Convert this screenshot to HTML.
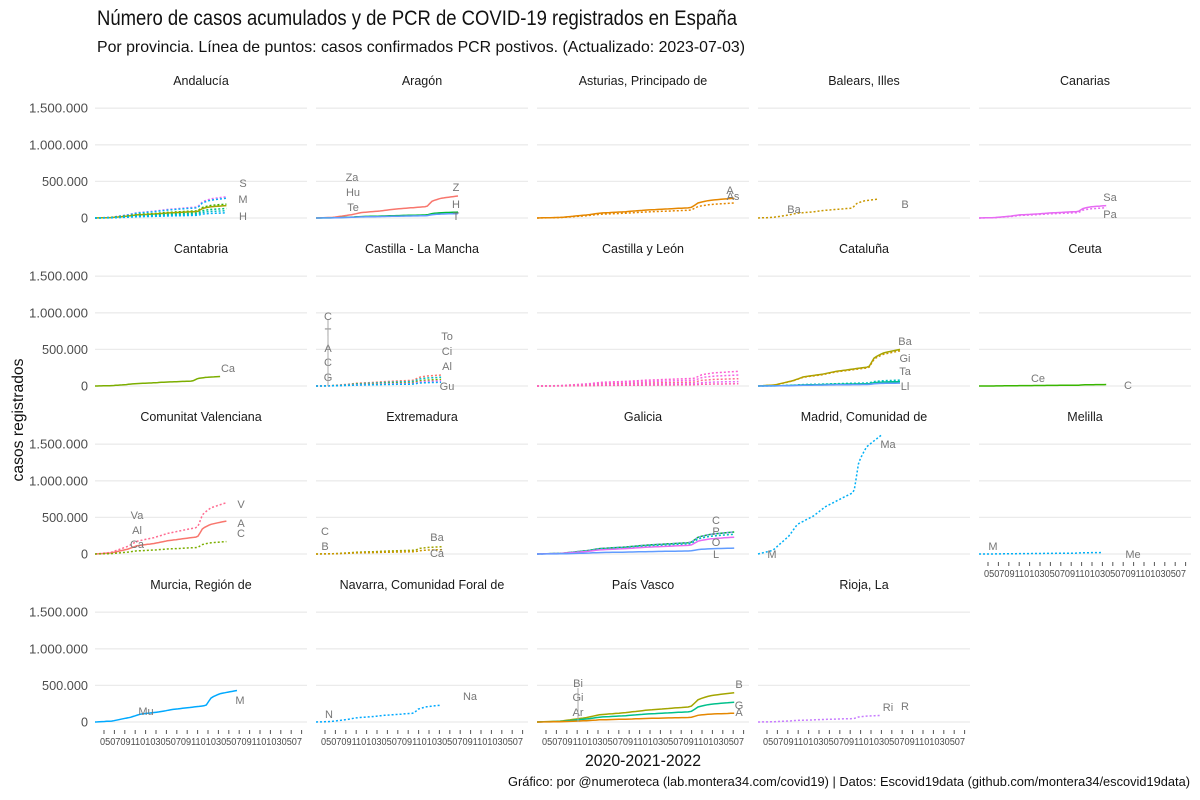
<!DOCTYPE html><html><head><meta charset="utf-8"><style>body{margin:0;background:#fff}svg{display:block;font-family:"Liberation Sans Narrow","Liberation Sans",sans-serif}</style></head><body>
<svg id="s" width="1200" height="800" xmlns="http://www.w3.org/2000/svg">
<text x="97" y="25" font-size="21" fill="#111" textLength="640" lengthAdjust="spacingAndGlyphs">Número de casos acumulados y de PCR de COVID-19 registrados en España</text>
<text x="97" y="52" font-size="16" fill="#111" textLength="648" lengthAdjust="spacingAndGlyphs">Por provincia. Línea de puntos: casos confirmados PCR postivos. (Actualizado: 2023-07-03)</text>
<text transform="translate(23,420) rotate(-90)" font-size="16" text-anchor="middle" fill="#111" textLength="123" lengthAdjust="spacingAndGlyphs">casos registrados</text>
<text x="643" y="766" font-size="17" text-anchor="middle" fill="#111" textLength="116" lengthAdjust="spacingAndGlyphs">2020-2021-2022</text>
<text x="508" y="786" font-size="13" fill="#111" textLength="682" lengthAdjust="spacingAndGlyphs">Gráfico: por @numeroteca (lab.montera34.com/covid19) | Datos: Escovid19data (github.com/montera34/escovid19data)</text>
</svg>
<script>
var s=document.getElementById('s'),NS='http://www.w3.org/2000/svg';
function el(t,a,txt){var e=document.createElementNS(NS,t);for(var k in a)e.setAttribute(k,a[k]);if(txt!=null)e.textContent=txt;s.appendChild(e);return e;}
var colX=[95,316,537,758,979],W=212,rowTop=[80,248,416,584],k=36.6/500;
var shape=[[0,0],[0.12,0.03],[0.25,0.15],[0.32,0.25],[0.45,0.32],[0.55,0.4],[0.7,0.48],[0.78,0.52],[0.82,0.78],[0.88,0.9],[0.95,0.96],[1,1]];
function S(t){for(var i=1;i<shape.length;i++)if(t<=shape[i][0]){var a=shape[i-1],b=shape[i];return a[1]+(b[1]-a[1])*(t-a[0])/(b[0]-a[0]);}return 1;}
var P={
'Andalucía':[0,0,0.62,[['#e76bf3',290,1],['#00b0f6',270,1],['#39b600',190,1],['#a3a500',170,0],['#00bf7d',130,1],['#00bfc4',100,1],['#00b0f6',70,1]],[['S',243,183],['M',243,199],['H',243,216]]],
'Aragón':[1,0,0.67,[['#f8766d',300,0],['#00ba38',80,0],['#619cff',60,0]],[['Za',352,177],['Hu',353,192],['Te',353,207],['Z',456,187],['H',456,204],['T',456,216]]],
'Asturias, Principado de':[2,0,0.93,[['#e58700',270,0],['#e58700',205,1]],[['A',730,190],['As',733,196]]],
'Balears, Illes':[3,0,0.57,[['#c99800',260,1]],[['Ba',794,209],['B',905,204]]],
'Canarias':[4,0,0.6,[['#e76bf3',170,0],['#e76bf3',140,1]],[['Sa',1110,197],['Pa',1110,214]]],
'Cantabria':[0,1,0.59,[['#7cae00',130,0]],[['Ca',228,368]]],
'Castilla - La Mancha':[1,1,0.59,[['#f8766d',150,1],['#00bfc4',120,1],['#7cae00',90,1],['#e76bf3',70,1],['#00b0f6',50,1]],[['C',328,316],['T',328,332],['A',328,348],['C',328,362],['G',328,377],['To',447,336],['Ci',447,351],['Al',447,366],['Gu',447,386]]],
'Castilla y León':[2,1,0.95,[['#fd61d1',200,1],['#f564e3',150,1],['#ff6c91',100,1],['#e76bf3',60,1],['#ff64b0',30,1]],[]],
'Cataluña':[3,1,0.67,[['#a3a500',500,0],['#c99800',480,1],['#00bfc4',80,1],['#00c08b',60,0],['#619cff',40,0]],[['Ba',905,341],['Gi',905,358],['Ta',905,371],['Ll',905,386]]],
'Ceuta':[4,1,0.6,[['#39b600',20,0]],[['Ce',1038,378],['C',1128,385]]],
'Comunitat Valenciana':[0,2,0.62,[['#ff6c91',700,1],['#f8766d',450,0],['#7cae00',170,1]],[['Va',137,515],['Al',137,530],['Ca',137,544],['V',241,504],['A',241,523],['C',241,533]]],
'Extremadura':[1,2,0.6,[['#a3a500',100,1],['#c99800',60,1]],[['C',325,531],['B',325,546],['Ba',437,537],['Cá',437,553]]],
'Galicia':[2,2,0.93,[['#00ba38',300,0],['#9590ff',300,1],['#00bfc4',270,1],['#e76bf3',230,0],['#619cff',80,0]],[['C',716,520],['P',716,531],['O',716,542],['L',716,554]]],
'Madrid, Comunidad de':[3,2,0.58,[['#00b0f6',1620,1]],[['Ma',888,444],['M',772,554]]],
'Melilla':[4,2,0.58,[['#00b0f6',20,1]],[['M',993,546],['Me',1133,554]]],
'Murcia, Región de':[0,3,0.67,[['#00a9ff',430,0]],[['Mu',146,711],['M',240,700]]],
'Navarra, Comunidad Foral de':[1,3,0.59,[['#00a9ff',230,1]],[['N',329,714],['Na',470,696]]],
'País Vasco':[2,3,0.93,[['#a3a500',400,0],['#00c08b',270,0],['#e58700',120,0]],[['Bi',578,683],['Gi',578,697],['Ar',578,712],['B',739,684],['G',739,705],['A',739,712]]],
'Rioja, La':[3,3,0.58,[['#c77cff',90,1]],[['Ri',888,707],['R',905,706]]]};
var mon=['05','07','09','11','01','03','05','07','09','11','01','03','05','07','09','11','01','03','05','07'];
var ylab={0:'0',500:'500.000',1000:'1.000.000',1500:'1.500.000'};
for(var name in P){var p=P[name],x0=colX[p[0]],r=p[1],y0=rowTop[r]+138;
el('text',{x:x0+W/2,y:rowTop[r]+5,'font-size':12.5,'text-anchor':'middle',fill:'#1a1a1a'},name);
[0,500,1000,1500].forEach(function(v){el('line',{x1:x0,x2:x0+W,y1:y0-v*k,y2:y0-v*k,stroke:'#ebebeb','stroke-width':1.3});
if(p[0]==0){var lab=ylab[v];el('text',{x:88,y:y0-v*k+4.5,'font-size':13,'text-anchor':'end',fill:'#4d4d4d',textLength:(lab.length*6.6).toFixed(0),lengthAdjust:'spacingAndGlyphs'},lab);}});
if(r==3||name=='Melilla'){var ty=y0+8;for(var i=0;i<20;i++){var tx=x0+9+i*10.4;el('line',{x1:tx,x2:tx,y1:ty,y2:ty+4,stroke:'#555','stroke-width':1});}
el('text',{x:x0+106,y:ty+15,'font-size':10,'text-anchor':'middle',fill:'#4d4d4d',textLength:W-10,lengthAdjust:'spacingAndGlyphs'},mon.join(''));}
p[3].forEach(function(se){var d='';for(var j=0;j<=60;j++){var t=j/60,xx=x0+t*p[2]*W,yy=y0-S(t)*se[1]*k;d+=(j?'L':'M')+xx.toFixed(1)+' '+yy.toFixed(1);}
var a={d:d,fill:'none',stroke:se[0],'stroke-width':1.5};if(se[2])a['stroke-dasharray']='2 2';el('path',a);});
p[4].forEach(function(l){el('text',{x:l[1],y:l[2]+4,'font-size':11,'text-anchor':'middle',fill:'#777'},l[0]);});}
el('line',{x1:328,x2:328,y1:320,y2:386,stroke:'#aaa'});el('line',{x1:578,x2:578,y1:688,y2:722,stroke:'#aaa'});
</script></body></html>
